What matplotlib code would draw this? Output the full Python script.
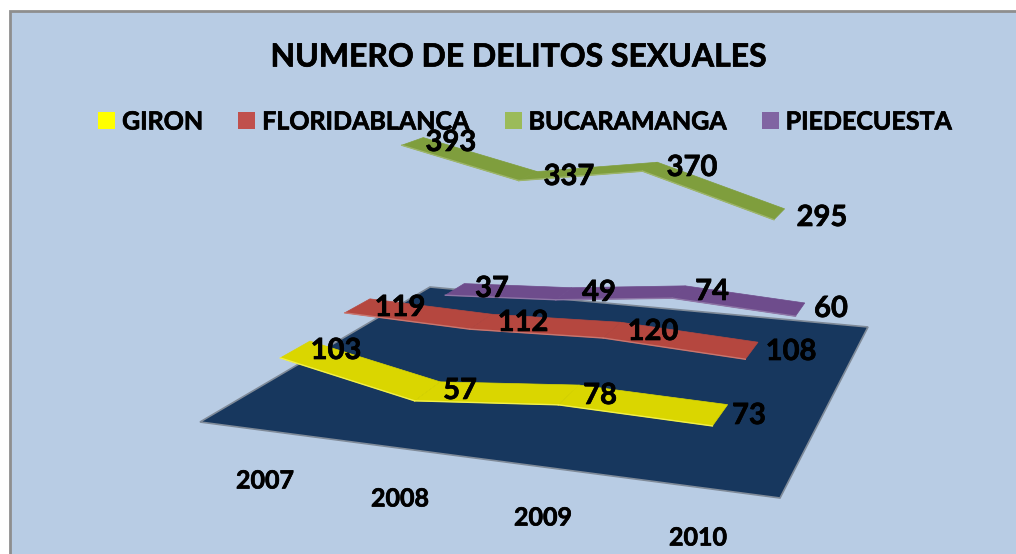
import numpy as np
import matplotlib.pyplot as plt
import matplotlib.patheffects as pe
from matplotlib.patches import Patch

plt.rcParams['font.family'] = ['Lato', 'DejaVu Sans']
plt.rcParams['font.weight'] = 'bold'

# Data
years = ['2007', '2008', '2009', '2010']
series = ['GIRON', 'FLORIDABLANCA', 'BUCARAMANGA', 'PIEDECUESTA']
giron = [103, 57, 78, 73]
florida = [119, 112, 120, 108]
bucaramanga = [393, 337, 370, 295]
piedecuesta = [37, 49, 74, 60]
all_values = [giron, florida, bucaramanga, piedecuesta]
legend_colors = ['#FFFF00', '#C0504D', '#9BBB59', '#8064A2']
ribbon_colors = ['#DAD600', '#B5473F', '#7F9E3D', '#6E4C8C']
edge_colors = ['#F2F04A', '#C9766F', '#9DB56A', '#8E76A6']

# floor corners on screen: front-left, back-left, back-right, front-right
floor_px = np.array([[200, 422], [430, 287], [868, 327], [780, 498]], float)
floor_uv = np.array([[0, 0], [0, 1], [1, 1], [1, 0]], float)

A = []
b = []
for (u, v), (x, y) in zip(floor_uv, floor_px):
    A.append([u, v, 1, 0, 0, 0, -u*x, -v*x])
    A.append([0, 0, 0, u, v, 1, -u*y, -v*y])
    b += [x, y]
H = np.append(np.linalg.solve(np.array(A), np.array(b)), 1).reshape(3, 3)
H = H / (H[2] @ np.array([0.5, 0.5, 1]))

lift = 0.53
half_depth = 0.055
slots = [0.12, 0.37, 0.63, 0.86]

# where the labels sit on the page
label_px = [[(336, 351), (460, 391), (600, 396), (749, 416)],
            [(400, 308), (523, 323), (653, 332), (791, 352)],
            [(451, 143), (569, 177), (692, 168), (822, 218)],
            [(492, 289), (599, 293), (712, 292), (831, 309)]]
year_px = [(265, 481), (400, 499), (543, 518), (698, 538)]
heavy = [pe.withStroke(linewidth=0.5, foreground='black')]


def project(u, v, z=0):
    p = H @ np.array([u, v, 1])
    return p[0]/p[2], p[1]/p[2] - z*lift/p[2]


def cat_u(i):
    return 0.12 + i*0.254


fig = plt.figure(figsize=(10.16, 5.54), dpi=100, facecolor='white')
ax = fig.add_axes([0, 0, 1, 1])
ax.set_xlim(0, 1016)
ax.set_ylim(554, 0)
ax.axis('off')

ax.add_patch(plt.Rectangle((10, 11), 1010, 550, fc='#B8CCE4', ec='#8E8E8E', lw=2))
ax.fill(floor_px[:, 0], floor_px[:, 1], fc='#17375E', ec='#7F8A98', lw=1.2)

# back series first so the front ones sit on top
for s in [3, 2, 1, 0]:
    vals = all_values[s]
    for i in range(3):
        front = [project(cat_u(i), slots[s]-half_depth, vals[i]),
                 project(cat_u(i+1), slots[s]-half_depth, vals[i+1])]
        back = [project(cat_u(i+1), slots[s]+half_depth, vals[i+1]),
                project(cat_u(i), slots[s]+half_depth, vals[i])]
        poly = np.array(front + back)
        ax.fill(poly[:, 0], poly[:, 1], fc=ribbon_colors[s], ec=ribbon_colors[s], lw=0.5, zorder=3)
        ax.plot([front[0][0], front[1][0]], [front[0][1], front[1][1]],
                color=edge_colors[s], lw=1, zorder=3)

for s, vals in enumerate(all_values):
    for i, val in enumerate(vals):
        x, y = label_px[s][i]
        ax.text(x, y, str(val), fontsize=21, ha='center', va='center', color='black',
                zorder=5, path_effects=heavy)

for (x, y), year in zip(year_px, years):
    ax.text(x, y, year, fontsize=18, ha='center', va='center', path_effects=heavy)

ax.text(519, 57, 'NUMERO DE DELITOS SEXUALES', fontsize=23, ha='center', va='center',
        path_effects=heavy)

handles = [Patch(fc=c, ec='none', label=n) for c, n in zip(legend_colors, series)]
leg = ax.legend(handles=handles, ncols=4, loc='center', bbox_to_anchor=(525/1016, 1-122/554),
                frameon=False, fontsize=18, handlelength=0.68, handleheight=0.68,
                handletextpad=0.28, columnspacing=1.4)
for t in leg.get_texts():
    t.set_path_effects(heavy)

plt.savefig('out.png', dpi=100)
